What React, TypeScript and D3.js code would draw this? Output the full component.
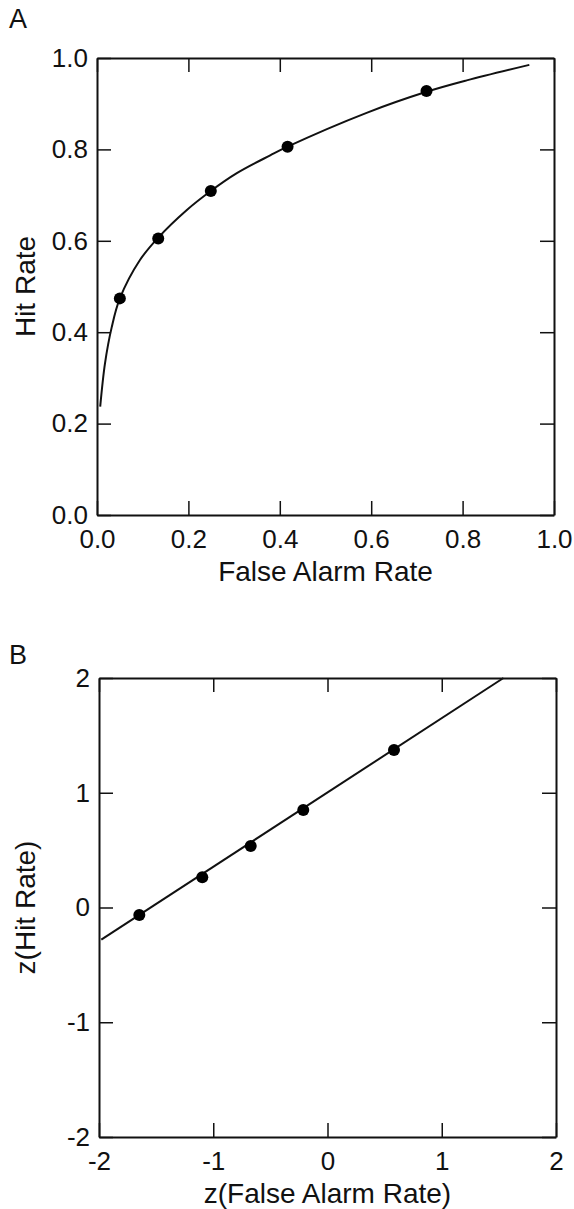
import React, { useEffect, useRef } from 'react';
import * as d3 from 'd3';

// panel A: ROC in probability space
const falseAlarm = [0.05, 0.134, 0.249, 0.417, 0.721];
const hitRate = [0.474, 0.605, 0.709, 0.806, 0.928];
// fitted curve
const fitF = [0.007, 0.0175, 0.032, 0.05, 0.094, 0.134, 0.196, 0.249, 0.306, 0.379, 0.417, 0.59, 0.721, 0.809, 0.946];
const fitH = [0.237, 0.332, 0.41, 0.474, 0.558, 0.607, 0.667, 0.709, 0.748, 0.787, 0.806, 0.88, 0.926, 0.951, 0.985];
const ticksA = [0, 0.2, 0.4, 0.6, 0.8, 1.0];

// panel B: z-transformed
const zFalse = [-1.647, -1.096, -0.672, -0.212, 0.582];
const zHit = [-0.065, 0.263, 0.536, 0.85, 1.373];
const lineZF = [-1.98, 1.54];
const lineZH = [-0.28, 2.0];
const ticksB = [-2, -1, 0, 1, 2];

const FONT = '"Liberation Sans", Arial, Helvetica, sans-serif';

export default function App() {
  const ref = useRef<SVGSVGElement>(null);

  useEffect(() => {
    const svg = d3.select(ref.current);
    svg.selectAll('*').remove();

    const drawPanel = (opts: {
      letter: string;
      left: number; right: number; top: number; bottom: number;
      domain: [number, number];
      ticks: number[];
      fmt: (d: number) => string;
      xLabel: string; yLabel: string;
      xs: number[]; ys: number[];
      lx: number[]; ly: number[];
      curve: d3.CurveFactory;
      letterY: number;
    }) => {
      const x = d3.scaleLinear().domain(opts.domain).range([opts.left, opts.right]);
      const y = d3.scaleLinear().domain(opts.domain).range([opts.bottom, opts.top]);
      const g = svg.append('g');

      g.append('text')
        .attr('x', 9).attr('y', opts.letterY)
        .attr('font-size', 27).attr('font-family', FONT).attr('fill', '#111')
        .text(opts.letter);

      const styleAxis = (sel: d3.Selection<SVGGElement, unknown, null, undefined>) => {
        sel.select('.domain').attr('stroke', '#111').attr('stroke-width', 2);
        sel.selectAll('.tick line').attr('stroke', '#111').attr('stroke-width', 1.5);
        sel.selectAll('.tick text').attr('font-size', 26).attr('font-family', FONT).attr('fill', '#111');
      };

      const left = g.append('g').attr('transform', `translate(${opts.left},0)`)
        .call(d3.axisLeft(y).tickValues(opts.ticks).tickFormat((d) => opts.fmt(+d)).tickSize(-14).tickSizeOuter(0).tickPadding(9));
      styleAxis(left);
      const bottom = g.append('g').attr('transform', `translate(0,${opts.bottom})`)
        .call(d3.axisBottom(x).tickValues(opts.ticks).tickFormat((d) => opts.fmt(+d)).tickSize(-14).tickSizeOuter(0).tickPadding(15));
      styleAxis(bottom);
      const right = g.append('g').attr('transform', `translate(${opts.right},0)`)
        .call(d3.axisRight(y).tickValues(opts.ticks).tickFormat(() => '').tickSize(-14).tickSizeOuter(0));
      styleAxis(right);
      const top = g.append('g').attr('transform', `translate(0,${opts.top})`)
        .call(d3.axisTop(x).tickValues(opts.ticks).tickFormat(() => '').tickSize(-14).tickSizeOuter(0));
      styleAxis(top);

      g.append('text')
        .attr('x', (opts.left + opts.right) / 2).attr('y', opts.bottom + 66)
        .attr('text-anchor', 'middle')
        .attr('font-size', 28).attr('font-family', FONT).attr('fill', '#111')
        .text(opts.xLabel);
      g.append('text')
        .attr('transform', `translate(35,${(opts.top + opts.bottom) / 2}) rotate(-90)`)
        .attr('text-anchor', 'middle')
        .attr('font-size', 28).attr('font-family', FONT).attr('fill', '#111')
        .text(opts.yLabel);

      const line = d3.line<number>()
        .x((d, i) => x(opts.lx[i]))
        .y((d, i) => y(opts.ly[i]))
        .curve(opts.curve);
      g.append('path')
        .attr('d', line(opts.lx))
        .attr('fill', 'none').attr('stroke', '#111').attr('stroke-width', 2);

      g.selectAll('circle.pt')
        .data(opts.xs)
        .enter()
        .append('circle')
        .attr('cx', (d) => x(d))
        .attr('cy', (d, i) => y(opts.ys[i]))
        .attr('r', 6)
        .attr('fill', '#000');
    };

    drawPanel({
      letter: 'A', letterY: 28,
      left: 97, right: 554, top: 58, bottom: 515,
      domain: [0, 1], ticks: ticksA, fmt: d3.format('.1f'),
      xLabel: 'False Alarm Rate', yLabel: 'Hit Rate',
      xs: falseAlarm, ys: hitRate, lx: fitF, ly: fitH,
      curve: d3.curveCatmullRom.alpha(0.5),
    });

    drawPanel({
      letter: 'B', letterY: 664,
      left: 99, right: 556, top: 678, bottom: 1137,
      domain: [-2, 2], ticks: ticksB, fmt: (d) => String(d),
      xLabel: 'z(False Alarm Rate)', yLabel: 'z(Hit Rate)',
      xs: zFalse, ys: zHit, lx: lineZF, ly: lineZH,
      curve: d3.curveLinear,
    });
  }, []);

  return (
    <svg
      ref={ref}
      width={574}
      height={1209}
      style={{ position: 'absolute', left: 0, top: 0, background: '#fff' }}
    />
  );
}
